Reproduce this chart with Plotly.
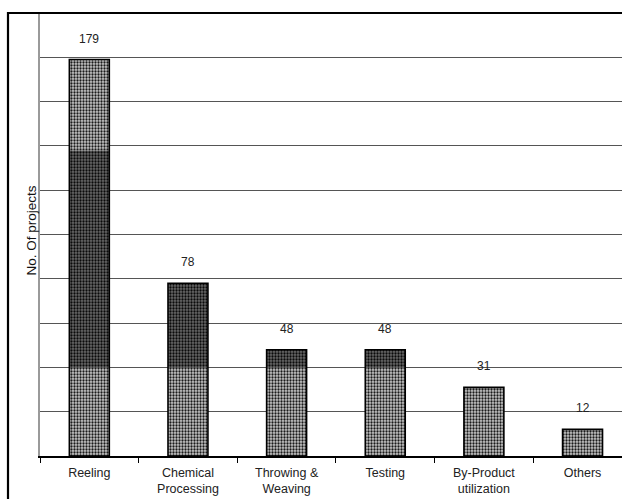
import plotly.graph_objects as go

# Number of projects per activity
categories = ["Reeling", "Chemical<br>Processing", "Throwing &<br>Weaving",
              "Testing", "By-Product<br>utilization", "Others"]
projects = [179, 78, 48, 48, 31, 12]

# Value range over which the bars carry the darker shading
dark_band = (40, 138)

FONT = "Liberation Sans, Arial, sans-serif"
lo, hi = dark_band
low_part = [min(v, lo) for v in projects]
mid_part = [max(0, min(v, hi) - lo) for v in projects]
top_part = [max(0, v - hi) for v in projects]


def band(values, base, bg, fg):
    return go.Bar(
        x=categories, y=values, base=base, width=0.405,
        marker=dict(color=bg, line=dict(width=0),
                    pattern=dict(shape=".", size=3, solidity=0.45,
                                 fgcolor=fg, bgcolor=bg,
                                 fillmode="replace")),
        hoverinfo="skip", showlegend=False,
    )


fig = go.Figure()
fig.add_trace(band(low_part, 0, "#c8c8c8", "#1a1a1a"))
fig.add_trace(band(mid_part, lo, "#686868", "#0a0a0a"))
fig.add_trace(band(top_part, hi, "#c8c8c8", "#1a1a1a"))
# Outline of each full bar
fig.add_trace(go.Bar(
    x=categories, y=projects, width=0.405,
    marker=dict(color="rgba(0,0,0,0)", line=dict(color="#000000", width=1.6)),
    hovertemplate="%{x}: %{y}<extra></extra>", showlegend=False,
))

annotations = [
    dict(x=c, y=v, xref="x", yref="y", text=str(v), showarrow=False,
         yanchor="bottom", yshift=12, font=dict(family=FONT, size=12, color="#222"))
    for c, v in zip(categories, projects)
]
annotations.append(dict(
    text="No. Of projects", xref="paper", yref="paper", x=-0.031, y=0.51,
    textangle=-90, showarrow=False, font=dict(family=FONT, size=13.5, color="#111"),
))

fig.update_layout(
    width=622, height=499,
    margin=dict(l=40, r=0, t=13, b=43),
    paper_bgcolor="white", plot_bgcolor="white",
    barmode="overlay",
    font=dict(family=FONT, size=12.5, color="#222"),
    annotations=annotations,
    shapes=[dict(type="rect", xref="paper", yref="paper",
                 x0=-32 / 582, x1=1.1, y0=-0.3, y1=1.0,
                 line=dict(color="#000000", width=2.2), layer="above")],
    xaxis=dict(range=[-0.5, 5.4], showline=True, linecolor="#000000", linewidth=1.5,
               ticks="outside", tickson="boundaries", ticklen=5, tickcolor="#000000",
               ticklabelstandoff=4,
               tickfont=dict(family=FONT, size=12.5, color="#222"), showgrid=False),
    yaxis=dict(range=[0, 200], dtick=20, showticklabels=False, showgrid=True,
               gridcolor="#555555", gridwidth=1, showline=True, linecolor="#9a9a9a",
               linewidth=1.5, zeroline=False, ticks=""),
)

fig.write_html("out.html")
